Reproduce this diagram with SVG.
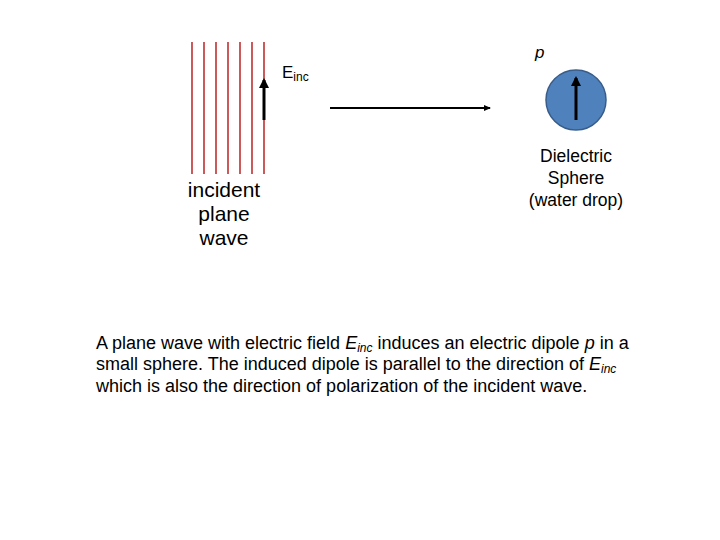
<svg xmlns="http://www.w3.org/2000/svg" width="720" height="540" viewBox="0 0 720 540">
<style>
.w{stroke:#b00000;stroke-width:1.3}
text{font-family:"Liberation Sans",Arial,sans-serif;fill:#000}
</style>
<defs>
<marker id="ah" markerWidth="8" markerHeight="8" refX="6" refY="4" orient="auto" markerUnits="userSpaceOnUse"><path d="M0,1 L7,4 L0,7 z" fill="#000"/></marker>
<marker id="ahb" markerWidth="12" markerHeight="12" refX="8" refY="6" orient="auto" markerUnits="userSpaceOnUse"><path d="M0,1 L10,6 L0,11 z" fill="#000"/></marker>
</defs>
<rect width="720" height="540" fill="#fff"/>
<g id="wave">
<line class="w" x1="192" y1="42" x2="192" y2="174"/>
<line class="w" x1="204" y1="42" x2="204" y2="174"/>
<line class="w" x1="216" y1="42" x2="216" y2="174"/>
<line class="w" x1="228" y1="42" x2="228" y2="174"/>
<line class="w" x1="240" y1="42" x2="240" y2="174"/>
<line class="w" x1="252" y1="42" x2="252" y2="174"/>
<line class="w" x1="264" y1="42" x2="264" y2="174"/>
<line x1="264" y1="120" x2="264" y2="80" stroke="#000" stroke-width="3" marker-end="url(#ahb)"/>
<text x="282" y="78" font-size="17">E<tspan font-size="12" dy="3">inc</tspan></text>
<text x="224" y="197" font-size="21" text-anchor="middle">incident</text>
<text x="224" y="221" font-size="21" text-anchor="middle">plane</text>
<text x="224" y="245" font-size="21" text-anchor="middle">wave</text>
</g>
<g id="sphere">
<circle cx="576" cy="100" r="30" fill="#4f81bd" stroke="#385d8a" stroke-width="1.5"/>
<line x1="576" y1="120" x2="576" y2="78" stroke="#000" stroke-width="3" marker-end="url(#ahb)"/>
<text x="535" y="58" font-size="17" font-style="italic">p</text>
<text x="576" y="162" font-size="17.5" text-anchor="middle">Dielectric</text>
<text x="576" y="184" font-size="17.5" text-anchor="middle">Sphere</text>
<text x="576" y="206" font-size="17.5" text-anchor="middle">(water drop)</text>
</g>
<g id="connectors">
<line x1="330" y1="108" x2="490" y2="108" stroke="#000" stroke-width="2" marker-end="url(#ah)"/>
</g>
<g id="caption" font-size="18">
<text x="96" y="349">A plane wave with electric field <tspan font-style="italic">E<tspan font-size="12" dy="3">inc</tspan></tspan><tspan dy="-3"> induces an electric dipole </tspan><tspan font-style="italic">p</tspan> in a</text>
<text x="96" y="370">small sphere.  The induced dipole is parallel to the direction of <tspan font-style="italic">E<tspan font-size="12" dy="3">inc</tspan></tspan></text>
<text x="96" y="392">which is also the direction of polarization of the incident wave.</text>
</g>
</svg>
